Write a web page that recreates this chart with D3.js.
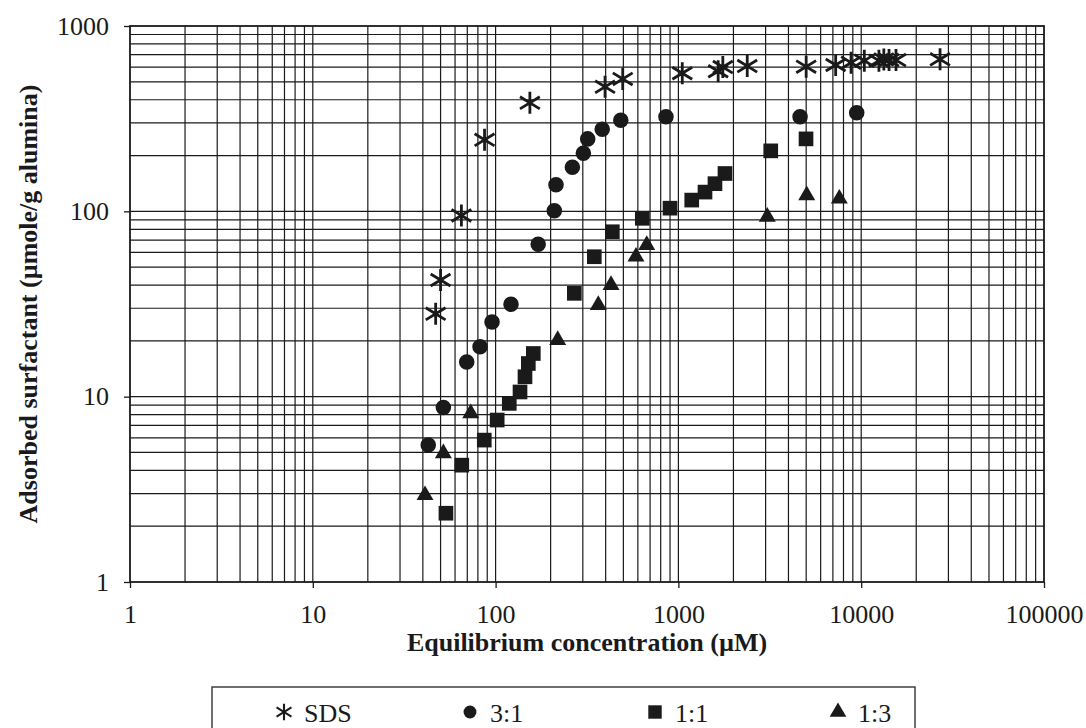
<!DOCTYPE html>
<html lang="en">
<head>
<meta charset="UTF-8">
<script src="https://d3js.org/d3.v7.min.js"></script>
<style>
  body { margin: 0; background: #fff; }
  #plot { position: absolute; width: 1086px; height: 728px; }
  text { font-family: "Liberation Serif", "Times New Roman", serif; fill: #1a1a1a; }
</style>
</head>
<body>
<div id="plot">
<script>
  // values (equilibrium conc. in uM, adsorbed in umole/g)
  const sdsX = [47, 50, 65, 87, 154, 397, 496, 1050, 1650, 1750, 2380, 5000, 7250, 8800, 10400, 12500, 13300, 14200, 15500, 27000];
  const sdsY = [28, 42.6, 95, 243, 385, 470, 518, 556, 570, 600, 608, 603, 616, 634, 650, 650, 660, 655, 655, 661];

  const r31X = [42.8, 51.8, 69.5, 82.2, 95.6, 121.4, 171, 209.5, 214, 263, 302, 319, 383, 484, 855, 4630, 9450];
  const r31Y = [5.48, 8.75, 15.4, 18.6, 25.3, 31.5, 66.4, 100.7, 139, 173, 206, 246, 277, 310, 324, 324, 340];

  const r11X = [53.5, 65.3, 86.7, 102, 118.8, 136, 144.8, 151, 160.8, 269.6, 346.7, 435, 634.6, 900, 1183, 1398, 1585, 1798, 3200, 4990];
  const r11Y = [2.35, 4.27, 5.83, 7.48, 9.2, 10.6, 12.8, 15.1, 17.1, 36.1, 56.9, 77.6, 91.7, 104, 115, 127, 141, 160, 212, 246];

  const r13X = [41.1, 51.8, 73.1, 218.6, 364.6, 428, 586, 671, 3064, 5035, 7590];
  const r13Y = [2.94, 4.94, 8.13, 20.2, 31.2, 40, 56.9, 65.8, 93.5, 122, 117];

  const xTicks = [1, 10, 100, 1000, 10000, 100000];
  const yTicks = [1, 10, 100, 1000];
  const seriesNames = ["SDS", "3:1", "1:1", "1:3"];

  const ink = "#1a1a1a";
  const serif = '"Liberation Serif", "Times New Roman", serif';
  const pLeft = 130, pRight = 1044, pTop = 26, pBottom = 582;

  const svg = d3.select("#plot").append("svg")
      .attr("width", 1086)
      .attr("height", 728);

  const x = d3.scaleLog().domain([1, 100000]).range([pLeft, pRight]);
  const y = d3.scaleLog().domain([1, 1000]).range([pBottom, pTop]);

  // log grid, 1..9 in every decade
  const gridVals = (lo, hi) => {
    const out = [];
    for (let e = Math.log10(lo); e < Math.log10(hi); e++)
      for (let k = 1; k < 10; k++) out.push(k * Math.pow(10, e));
    return out.slice(1);
  };

  svg.append("g")
    .selectAll("line")
    .data(gridVals(1, 100000))
    .join("line")
      .attr("x1", d => x(d)).attr("x2", d => x(d))
      .attr("y1", pTop).attr("y2", pBottom)
      .attr("stroke", ink).attr("stroke-width", 1.2);

  svg.append("g")
    .selectAll("line")
    .data(gridVals(1, 1000))
    .join("line")
      .attr("x1", pLeft).attr("x2", pRight)
      .attr("y1", d => y(d)).attr("y2", d => y(d))
      .attr("stroke", ink).attr("stroke-width", 1.2);

  // frame
  svg.append("rect")
    .attr("x", pLeft).attr("y", pTop)
    .attr("width", pRight - pLeft).attr("height", pBottom - pTop)
    .attr("fill", "none").attr("stroke", ink).attr("stroke-width", 1.8);

  // axes
  const xAxis = svg.append("g")
    .attr("transform", `translate(0,${pBottom})`)
    .call(d3.axisBottom(x).tickValues(xTicks).tickFormat(d3.format("d")).tickSize(6).tickPadding(17));
  const yAxis = svg.append("g")
    .attr("transform", `translate(${pLeft},0)`)
    .call(d3.axisLeft(y).tickValues(yTicks).tickFormat(d3.format("d")).tickSize(6).tickPadding(15));
  [xAxis, yAxis].forEach(g => {
    g.select(".domain").remove();
    g.selectAll("line").attr("stroke", ink).attr("stroke-width", 1.3);
    g.selectAll("text")
      .style("font-family", serif)
      .style("font-size", "26px").attr("fill", ink);
  });

  // axis titles
  svg.append("text")
    .attr("x", (pLeft + pRight) / 2).attr("y", 651)
    .attr("text-anchor", "middle")
    .style("font-family", serif)
    .style("font-size", "26px").style("font-weight", "bold")
    .text("Equilibrium concentration (\u00b5M)");

  svg.append("text")
    .attr("transform", `translate(37,${(pTop + pBottom) / 2}) rotate(-90)`)
    .attr("text-anchor", "middle")
    .style("font-family", serif)
    .style("font-size", "26px").style("font-weight", "bold")
    .text("Adsorbed surfactant (\u00b5mole/g alumina)");

  // markers
  const star = d3.path();
  const s = 11;
  star.moveTo(0, -s); star.lineTo(0, s);
  star.moveTo(-s * 0.9, -s * 0.55); star.lineTo(s * 0.9, s * 0.55);
  star.moveTo(-s * 0.9, s * 0.55); star.lineTo(s * 0.9, -s * 0.55);

  const circleSym = d3.symbol().type(d3.symbolCircle).size(190);
  const squareSym = d3.symbol().type(d3.symbolSquare).size(215);
  const triSym = d3.symbol().type(d3.symbolTriangle).size(125);

  const drawStar = (g, xs, ys) => g.selectAll("path")
    .data(xs.map((v, i) => [v, ys[i]]))
    .join("path")
      .attr("d", star.toString())
      .attr("transform", d => `translate(${x(d[0])},${y(d[1])})`)
      .attr("fill", "none").attr("stroke", ink).attr("stroke-width", 2.8);

  const drawSym = (g, xs, ys, sym) => g.selectAll("path")
    .data(xs.map((v, i) => [v, ys[i]]))
    .join("path")
      .attr("d", sym)
      .attr("transform", d => `translate(${x(d[0])},${y(d[1])})`)
      .attr("fill", ink);

  drawStar(svg.append("g"), sdsX, sdsY);
  drawSym(svg.append("g"), r31X, r31Y, circleSym);
  drawSym(svg.append("g"), r11X, r11Y, squareSym);
  drawSym(svg.append("g"), r13X, r13Y, triSym);

  // legend
  const legend = svg.append("g");
  legend.append("rect")
    .attr("x", 212).attr("y", 687)
    .attr("width", 703).attr("height", 46)
    .attr("fill", "#fff").attr("stroke", "#333").attr("stroke-width", 1.4);

  const legX = [284, 470, 655, 838];
  const legSyms = [null, d3.symbol().type(d3.symbolCircle).size(130)(),
                   d3.symbol().type(d3.symbolSquare).size(180)(),
                   d3.symbol().type(d3.symbolTriangle).size(120)()];
  seriesNames.forEach((name, i) => {
    const g = legend.append("g").attr("transform", `translate(${legX[i]},712)`);
    if (i === 0) {
      g.append("path").attr("d", star.toString())
        .attr("transform", "scale(0.75)")
        .attr("fill", "none").attr("stroke", ink).attr("stroke-width", 2.8);
    } else {
      g.append("path").attr("d", legSyms[i]).attr("fill", ink);
    }
    g.append("text")
      .attr("x", 20).attr("y", 10)
      .style("font-family", serif)
      .style("font-size", "26px")
      .text(name);
  });
</script>
</div>
</body>
</html>
